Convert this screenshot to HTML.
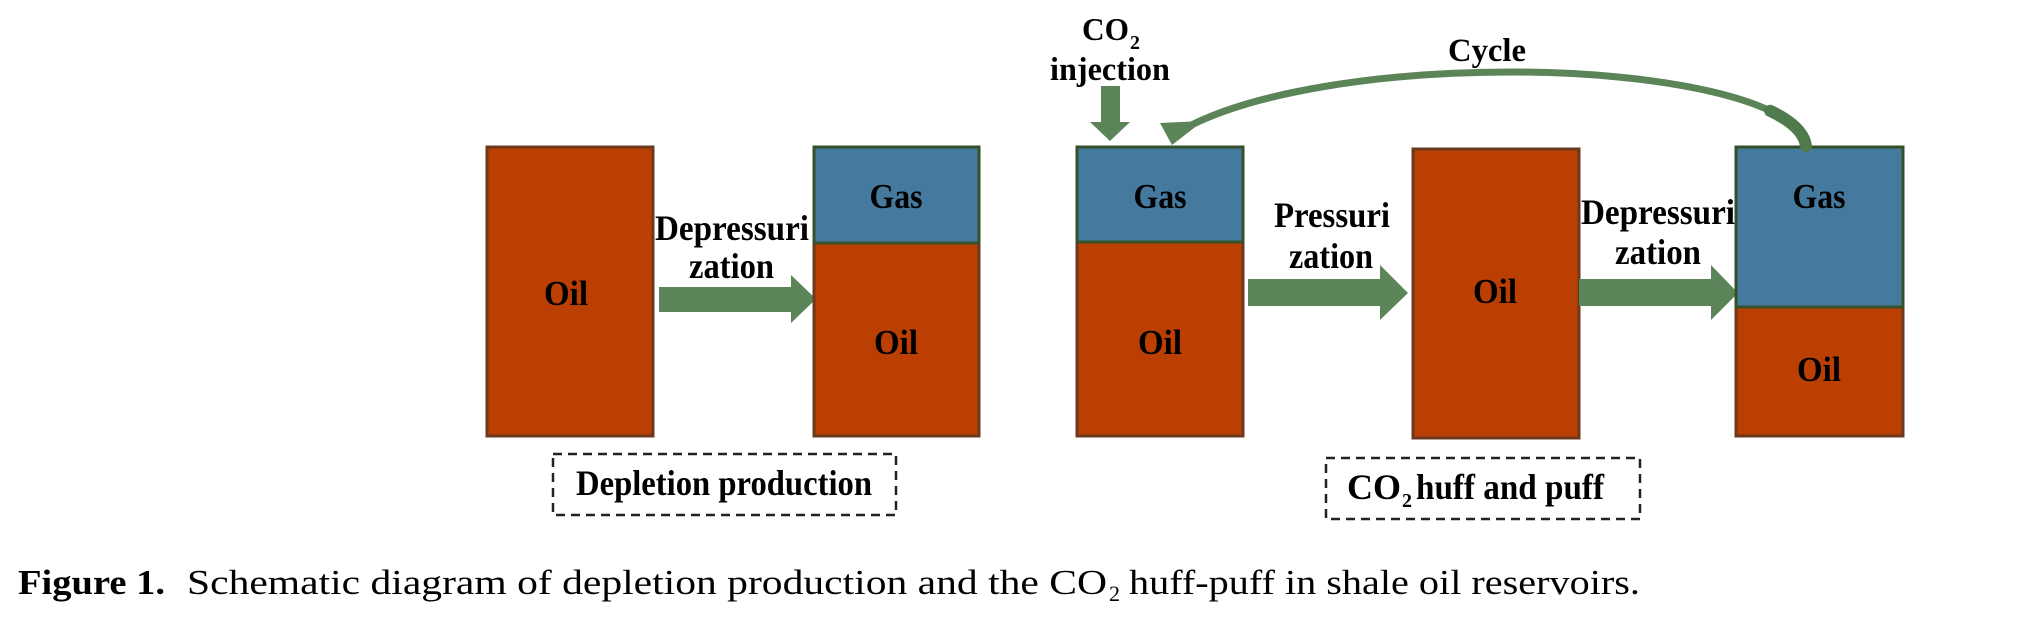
<!DOCTYPE html>
<html><head><meta charset="utf-8"><style>
html,body{margin:0;padding:0;background:#fff;}
svg{display:block;}
.b{font-family:"Liberation Serif",serif;font-weight:bold;fill:#000;}
.c{font-family:"Liberation Serif",serif;fill:#000;}
</style></head><body>
<svg width="2042" height="619" viewBox="0 0 2042 619" xmlns="http://www.w3.org/2000/svg">
<rect width="2042" height="619" fill="#fff"/>
<!-- Box1 -->
<rect x="487" y="147" width="166" height="289" fill="#bb3e03" stroke="#6b3a1e" stroke-width="3"/>
<text class="b" x="566" y="305" font-size="35" text-anchor="middle" textLength="44" lengthAdjust="spacingAndGlyphs">Oil</text>
<!-- Arrow1 -->
<polygon points="659,287 791,287 791,275 816,299 791,323 791,312 659,312" fill="#5b8458"/>
<text class="b" x="655" y="240" font-size="36" textLength="154" lengthAdjust="spacingAndGlyphs">Depressuri</text>
<text class="b" x="689" y="278" font-size="36" textLength="85" lengthAdjust="spacingAndGlyphs">zation</text>
<!-- Box2 -->
<rect x="814" y="243" width="165" height="193" fill="#bb3e03" stroke="#6b3a1e" stroke-width="3"/>
<rect x="814" y="147" width="165" height="96" fill="#457a9e" stroke="#34512a" stroke-width="3"/>
<text class="b" x="896" y="208" font-size="35" text-anchor="middle" textLength="53" lengthAdjust="spacingAndGlyphs">Gas</text>
<text class="b" x="896" y="354" font-size="35" text-anchor="middle" textLength="44" lengthAdjust="spacingAndGlyphs">Oil</text>
<!-- Dashed 1 -->
<rect x="553" y="454" width="343" height="61" fill="none" stroke="#222" stroke-width="2.5" stroke-dasharray="9,6"/>
<text class="b" x="576" y="495" font-size="36" textLength="296" lengthAdjust="spacingAndGlyphs">Depletion production</text>
<!-- CO2 injection -->
<text class="b" x="1082" y="40" font-size="32" textLength="47" lengthAdjust="spacingAndGlyphs">CO</text>
<text class="b" x="1130" y="49" font-size="20">2</text>
<text class="b" x="1050" y="80" font-size="33" textLength="120" lengthAdjust="spacingAndGlyphs">injection</text>
<polygon points="1101,86 1120,86 1120,122 1130,122 1110,141 1090,122 1101,122" fill="#5b8458"/>
<!-- Box3 -->
<rect x="1077" y="242" width="166" height="194" fill="#bb3e03" stroke="#6b3a1e" stroke-width="3"/>
<rect x="1077" y="147" width="166" height="95" fill="#457a9e" stroke="#34512a" stroke-width="3"/>
<text class="b" x="1160" y="208" font-size="35" text-anchor="middle" textLength="53" lengthAdjust="spacingAndGlyphs">Gas</text>
<text class="b" x="1160" y="354" font-size="35" text-anchor="middle" textLength="44" lengthAdjust="spacingAndGlyphs">Oil</text>
<!-- Arrow2 -->
<polygon points="1248,279 1380,279 1380,265 1408,293 1380,320 1380,306 1248,306" fill="#5b8458"/>
<text class="b" x="1274" y="227" font-size="36" textLength="116" lengthAdjust="spacingAndGlyphs">Pressuri</text>
<text class="b" x="1289" y="268" font-size="36" textLength="84" lengthAdjust="spacingAndGlyphs">zation</text>
<!-- Box4 -->
<rect x="1413" y="149" width="166" height="289" fill="#bb3e03" stroke="#6b3a1e" stroke-width="3"/>
<text class="b" x="1495" y="303" font-size="35" text-anchor="middle" textLength="44" lengthAdjust="spacingAndGlyphs">Oil</text>
<!-- Arrow3 -->
<polygon points="1579,279 1711,279 1711,265 1738,293 1711,320 1711,306 1579,306" fill="#5b8458"/>
<text class="b" x="1581" y="224" font-size="36" textLength="154" lengthAdjust="spacingAndGlyphs">Depressuri</text>
<text class="b" x="1615" y="264" font-size="36" textLength="86" lengthAdjust="spacingAndGlyphs">zation</text>
<!-- Box5 -->
<rect x="1736" y="307" width="167" height="129" fill="#bb3e03" stroke="#6b3a1e" stroke-width="3"/>
<rect x="1736" y="147" width="167" height="160" fill="#457a9e" stroke="#34512a" stroke-width="3"/>
<text class="b" x="1819" y="208" font-size="35" text-anchor="middle" textLength="53" lengthAdjust="spacingAndGlyphs">Gas</text>
<text class="b" x="1819" y="381" font-size="35" text-anchor="middle" textLength="44" lengthAdjust="spacingAndGlyphs">Oil</text>
<!-- Cycle arc -->
<path d="M1806,146 C1800,100 1660,72 1512,72 C1380,72 1250,92 1182,130" fill="none" stroke="#5b8458" stroke-width="7"/>
<path d="M1806,146 C1800,100 1660,72 1512,72 C1380,72 1250,92 1182,130" fill="none" stroke="#4e7a4c" stroke-width="12" stroke-linecap="round" pathLength="100" stroke-dasharray="8 200"/>
<polygon points="1172,145 1160,123 1203,121" fill="#5b8458"/>
<text class="b" x="1448" y="61" font-size="33" textLength="78" lengthAdjust="spacingAndGlyphs">Cycle</text>
<!-- Dashed 2 -->
<rect x="1326" y="458" width="314" height="61" fill="none" stroke="#222" stroke-width="2.5" stroke-dasharray="9,6"/>
<text class="b" x="1347" y="499" font-size="36" textLength="54" lengthAdjust="spacingAndGlyphs">CO</text>
<text class="b" x="1402" y="507" font-size="20">2</text>
<text class="b" x="1416" y="499" font-size="36" textLength="188" lengthAdjust="spacingAndGlyphs">huff and puff</text>
<!-- Caption -->
<text class="b" x="18" y="594" font-size="35" textLength="147" lengthAdjust="spacingAndGlyphs">Figure 1.</text>
<text class="c" x="187" y="594" font-size="35" textLength="920" lengthAdjust="spacingAndGlyphs">Schematic diagram of depletion production and the CO</text>
<text class="c" x="1109" y="601" font-size="22">2</text>
<text class="c" x="1129" y="594" font-size="35" textLength="511" lengthAdjust="spacingAndGlyphs">huff-puff in shale oil reservoirs.</text>
</svg>
</body></html>
